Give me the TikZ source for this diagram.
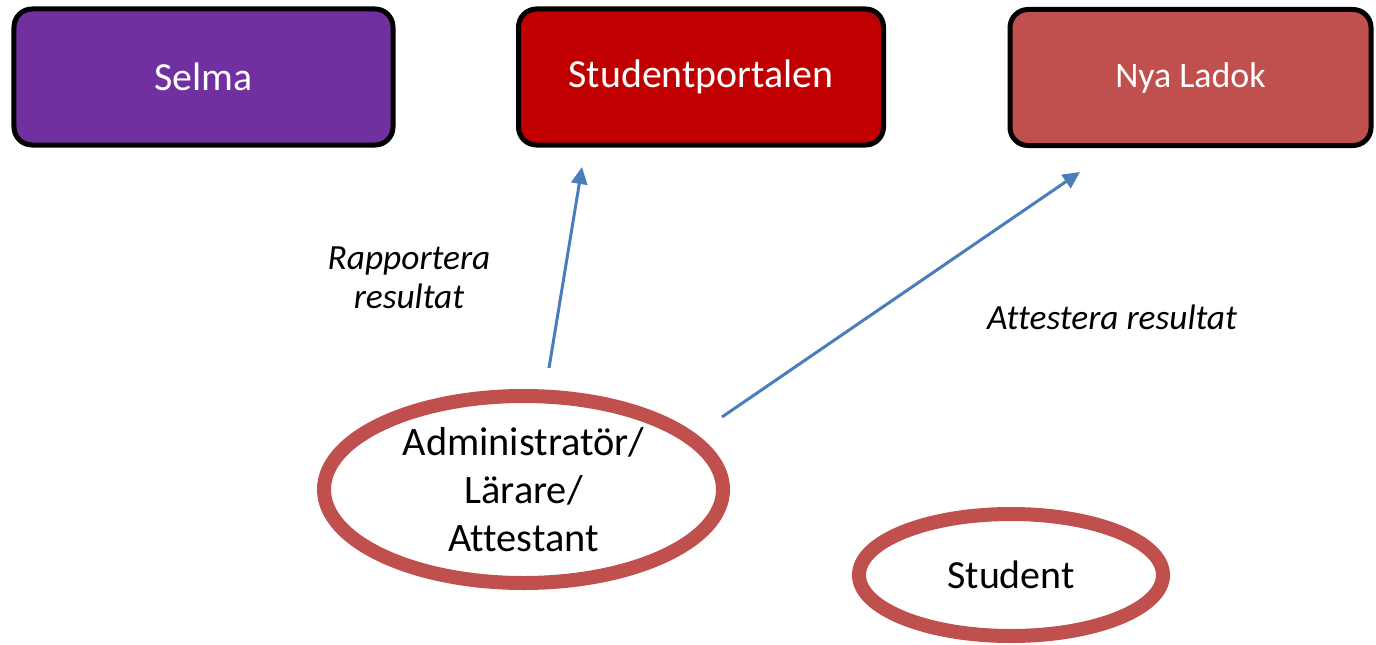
\documentclass[tikz,border=0pt]{standalone}
\usepackage{fontspec}
\setmainfont{Carlito}[Ligatures=CommonOff]
\usetikzlibrary{shapes.geometric,arrows.meta}
\definecolor{selmapurple}{HTML}{7030A0}
\definecolor{portalred}{HTML}{C00000}
\definecolor{ladokred}{HTML}{C0504D}
\definecolor{arrowblue}{HTML}{4A7EBB}
\tikzset{
  sysbox/.style={draw=black, line width=5bp, rounded corners=18bp, inner sep=0pt, text=white},
  actor/.style={draw=ladokred, fill=white, ellipse, line width=14bp, inner sep=0pt, align=center},
  flow/.style={draw=arrowblue, line width=3bp, -{Triangle[length=17bp,width=16bp]}},
  lbl/.style={font=\fontsize{35.5}{39}\selectfont\itshape, align=center, inner sep=0pt}
}
\begin{document}
\begin{tikzpicture}[x=1bp,y=-1bp]
\useasboundingbox (0,0) rectangle (1376,645);
\node[sysbox, fill=selmapurple, minimum width=379bp, minimum height=136bp, font=\fontsize{40}{46}\selectfont] (selma) at (203.5,77) {Selma};
\node[sysbox, fill=portalred, minimum width=365bp, minimum height=136bp, font=\fontsize{40}{46}\selectfont] (portal) at (701,77) {Studentportalen};
\node[sysbox, fill=ladokred, minimum width=361bp, minimum height=136bp, font=\fontsize{36}{42}\selectfont] (ladok) at (1190.5,77.5) {Nya Ladok};
\node[actor, minimum width=399bp, minimum height=187bp, font=\fontsize{40.5}{48}\selectfont] (admin) at (523.5,489.5) {Administratör/\\Lärare/\\Attestant};
\node[actor, minimum width=304bp, minimum height=122bp, font=\fontsize{40}{48}\selectfont] (student) at (1011,575) {Student};
\coordinate (a1s) at (549,368);
\coordinate (a1e) at (582,167);
\coordinate (a2s) at (722,417);
\coordinate (a2e) at (1080,172);
\draw[flow] (a1s) -- (a1e);
\draw[flow] (a2s) -- (a2e);
\node[lbl] (rap) at (409,278) {Rapportera\\resultat};
\node[lbl] (att) at (1112,317) {Attestera resultat};
\end{tikzpicture}
\end{document}
